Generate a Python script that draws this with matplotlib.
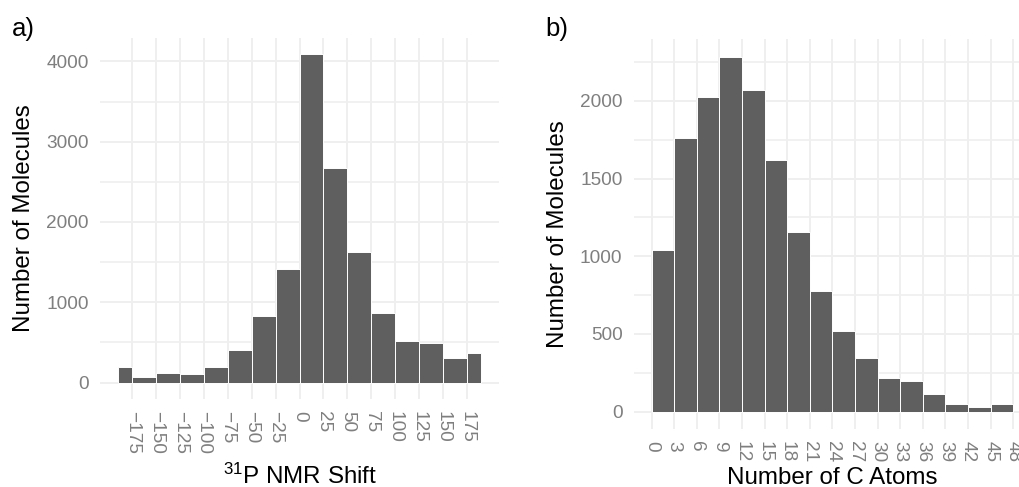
import numpy as np
import matplotlib
matplotlib.use("Agg")
import matplotlib.pyplot as plt

plt.rcParams['font.family'] = ['Liberation Sans', 'DejaVu Sans']
plt.rcParams['mathtext.fontset'] = 'custom'
plt.rcParams['mathtext.rm'] = 'Liberation Sans'

# panel a) 31P shift histogram
p_edges = [-190, -175, -150, -125, -100, -75, -50, -25, 0, 25, 50, 75, 100, 125, 150, 175, 190]
p_counts = [200, 75, 125, 112, 200, 400, 835, 1420, 4087, 2675, 1628, 868, 523, 498, 311, 374]
p_ticks = list(range(-175, 176, 25))

# panel b) carbon atom count histogram
c_edges = [0, 3, 6, 9, 12, 15, 18, 21, 24, 27, 30, 33, 36, 39, 42, 45, 48]
c_counts = [1041, 1764, 2026, 2283, 2071, 1620, 1159, 777, 519, 345, 217, 197, 114, 49, 30, 49]
c_ticks = list(range(0, 49, 3))

bar_col = '#5f5f5f'
grid_col = '#efefef'
tick_col = '#7f7f7f'

fig = plt.figure(figsize=(10.19, 4.87), dpi=100)
ax1 = fig.add_axes([100/1019, 1 - 399/487, 399/1019, 361/487])
ax2 = fig.add_axes([633.6/1019, 1 - 429.4/487, 397.7/1019, 390.1/487])


def draw_hist(ax, edges, counts, xticks, ymajor, yminor):
    edges = np.array(edges, dtype=float)
    ax.bar(edges[:-1], counts, width=np.diff(edges), align='edge',
           color=bar_col, edgecolor='white', linewidth=0.7, zorder=3)
    span = edges[-1] - edges[0]
    ax.set_xlim(edges[0] - 0.05 * span, edges[-1] + 0.05 * span)
    top = max(counts)
    ax.set_ylim(-0.05 * top, 1.05 * top)
    ax.set_xticks(xticks)
    ax.set_yticks(ymajor)
    ax.set_yticks(yminor, minor=True)
    ax.grid(True, which='major', color=grid_col, linewidth=1.4, zorder=0)
    ax.grid(True, which='minor', axis='y', color=grid_col, linewidth=1.2, zorder=0)
    ax.set_axisbelow(True)
    for s in ax.spines.values():
        s.set_visible(False)
    ax.tick_params(axis='both', which='both', length=0, labelsize=13.7, labelcolor=tick_col)
    ax.tick_params(axis='x', pad=8.6, labelrotation=-90)
    ax.tick_params(axis='y', pad=8)
    ax.set_ylabel('Number of Molecules', fontsize=17.4, labelpad=8)


draw_hist(ax1, p_edges, p_counts, p_ticks, [0, 1000, 2000, 3000, 4000], [500, 1500, 2500, 3500])
draw_hist(ax2, c_edges, c_counts, c_ticks, [0, 500, 1000, 1500, 2000], [250, 750, 1250, 1750, 2250])

fig.text(300/1019, 1 - 484/487, r'$\mathregular{^{31}}$P NMR Shift', fontsize=17.4,
         ha='center', va='baseline')
fig.text(832/1019, 1 - 484/487, 'Number of C Atoms', fontsize=17.4,
         ha='center', va='baseline')

fig.text(12/1019, 1 - 36/487, 'a)', fontsize=18.5, ha='left', va='baseline')
fig.text(545/1019, 1 - 36/487, 'b)', fontsize=18.5, ha='left', va='baseline')

fig.savefig('out.png', dpi=100)
